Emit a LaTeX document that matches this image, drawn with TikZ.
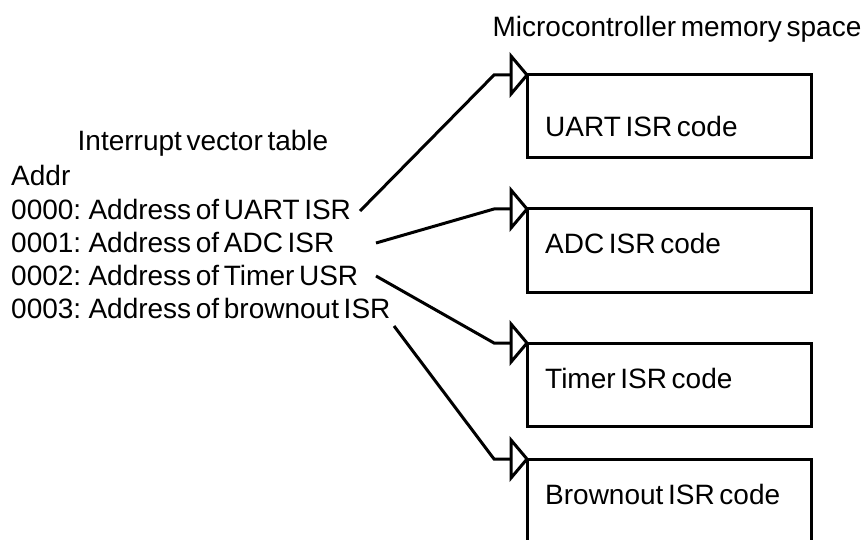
\documentclass[tikz,border=0pt]{standalone}
\usepackage{fontspec}
\setmainfont[WordSpace=0.6]{Liberation Sans}
\usetikzlibrary{calc}
\begin{document}
\begin{tikzpicture}[x=1pt,y=-1pt,
  txt/.style={inner sep=0pt,font=\fontsize{28}{32}\selectfont},
  codebox/.style={draw,line width=3pt,minimum width=284pt,minimum height=83pt,anchor=north west,inner sep=0pt,outer sep=0pt},
  conn/.style={line width=3pt,line join=miter},
  tip/.style={line width=3pt,line join=miter,fill=white}]
\useasboundingbox (0,0) rectangle (865,540);
\begin{scope}
\clip (0,0) rectangle (865,540);
% title
\node[txt] (title) at (677,29) {Microcontroller memory space};
% table
\node[txt] (ivt) at (203,143) {Interrupt vector table};
\node[txt,anchor=west] (addr) at (11,175) {Addr};
\node[txt,anchor=west] (l0) at (11,209) {0000: Address of UART ISR};
\node[txt,anchor=west] (l1) at (11,242) {0001: Address of ADC ISR};
\node[txt,anchor=west] (l2) at (11,275) {0002: Address of Timer USR};
\node[txt,anchor=west] (l3) at (11,308) {0003: Address of brownout ISR};
% boxes
\node[codebox] (uart) at (527,75) {};
\node[codebox] (adc) at (527,209) {};
\node[codebox] (timer) at (527,343) {};
\node[codebox,minimum height=120pt] (brown) at (527,459) {};
\node[txt,anchor=west] (tuart) at (545,126) {UART ISR code};
\node[txt,anchor=west] (tadc) at (545,243) {ADC ISR code};
\node[txt,anchor=west] (ttimer) at (545,378) {Timer ISR code};
\node[txt,anchor=west] (tbrown) at (545,494) {Brownout ISR code};
% connectors
\coordinate (s0) at (360,211);
\coordinate (s1) at (376,243);
\coordinate (s2) at (376,276);
\coordinate (s3) at (394,326);
\coordinate (b0) at (494,75);
\coordinate (b1) at (494,209);
\coordinate (b2) at (494,343);
\coordinate (b3) at (494,459);
\foreach \s/\b/\n in {s0/b0/uart, s1/b1/adc, s2/b2/timer, s3/b3/brown}{
  \draw[conn] (\s) -- (\b) -- ($(\n.north west)+(-16,0)$);
  \draw[tip] ($(\n.north west)+(-16,-19)$) -- (\n.north west) -- ($(\n.north west)+(-16,19)$) -- cycle;
}
\end{scope}
\end{tikzpicture}
\end{document}
